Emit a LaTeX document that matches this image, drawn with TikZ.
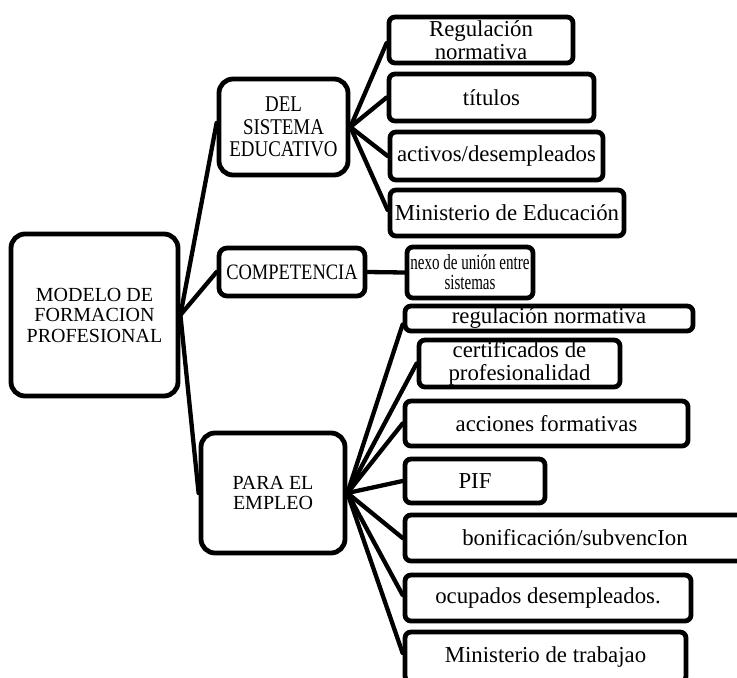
\documentclass[tikz,border=0pt]{standalone}
\usepackage{fontspec}
\setmainfont{Liberation Serif}
\newfontfamily\narrowserif{Liberation Serif}[FakeStretch=0.84]
\newfontfamily\narrowerserif{Liberation Serif}[FakeStretch=0.70]
\usetikzlibrary{backgrounds}

\tikzset{
  box/.style={draw=black, fill=white, line width=4.8pt, inner sep=0pt,
    align=center, anchor=center},
  bigbox/.style={box, rounded corners=14pt},
  smallbox/.style={box, rounded corners=6pt},
  capsfont/.style={font=\fontsize{20}{20.5}\selectfont},
  leaffont/.style={font=\fontsize{22.8}{22.5}\selectfont},
  link/.style={draw=black, line width=4.3pt, line cap=round},
}

\begin{document}
\begin{tikzpicture}[x=1pt, y=-1pt]
  \useasboundingbox (0,0) rectangle (737,678);
  \clip (0,0) rectangle (737,678);

  % root
  \node[bigbox, capsfont, minimum width=167pt, minimum height=162pt] (root) at (94.5,315)
    {MODELO DE\\FORMACION\\PROFESIONAL};

  % second level
  \node[bigbox, font=\narrowserif\fontsize{22.5}{22.5}\selectfont, minimum width=129pt, minimum height=96pt] (edu) at (283.5,127)
    {DEL\\SISTEMA\\EDUCATIVO};
  \node[smallbox, rounded corners=8pt, font=\narrowserif\fontsize{22}{22}\selectfont, minimum width=146pt, minimum height=48pt] (comp) at (292,272)
    {COMPETENCIA};
  \node[bigbox, capsfont, minimum width=144pt, minimum height=120pt] (emp) at (273,493)
    {PARA EL\\EMPLEO};

  % leaves of the education branch
  \node[smallbox, leaffont, minimum width=184pt, minimum height=46pt] (e1) at (481,40)
    {Regulación\\normativa};
  \node[smallbox, leaffont, minimum width=205pt, minimum height=47pt] (e2) at (491.5,97.5)
    {títulos};
  \node[smallbox, leaffont, minimum width=213pt, minimum height=48pt] (e3) at (496.5,156)
    {activos/desempleados};
  \node[smallbox, leaffont, minimum width=234pt, minimum height=46pt] (e4) at (507,213)
    {Ministerio de Educación};

  % competence link
  \node[smallbox, font=\narrowerserif\fontsize{21.5}{20}\selectfont, minimum width=126pt, minimum height=51pt] (c1) at (470,272.5)
    {nexo de unión entre\\sistemas};

  % leaves of the employment branch
  \node[smallbox, leaffont, minimum width=288pt, minimum height=25pt] (p1) at (549,318.5)
    {\raisebox{-1.5pt}{regulación normativa}};
  \node[smallbox, leaffont, minimum width=201pt, minimum height=47pt] (p2) at (519.5,363.5)
    {certificados de\\profesionalidad};
  \node[smallbox, leaffont, minimum width=283pt, minimum height=45pt] (p3) at (546.5,423.5)
    {acciones formativas};
  \node[smallbox, leaffont, minimum width=140pt, minimum height=44pt] (p4) at (475,481)
    {PIF};
  \node[smallbox, leaffont, minimum width=340pt, minimum height=46pt] (p5) at (575,538)
    {bonificación/subvencIon};
  \node[smallbox, leaffont, minimum width=286pt, minimum height=46pt] (p6) at (548,598)
    {ocupados desempleados.};
  \node[smallbox, leaffont, minimum width=281pt, minimum height=50pt] (p7) at (545.5,657)
    {Ministerio de trabajao};

  % connectors
  \begin{scope}[on background layer]
    \draw[link] (root.east) -- ([yshift=4pt]edu.west);
    \draw[link] (root.east) -- (comp.west);
    \draw[link] (root.east) -- (emp.west);

    \draw[link] (edu.east) -- ([yshift=-3pt]e1.west);
    \draw[link] (edu.east) -- (e2.west);
    \draw[link] (edu.east) -- (e3.west);
    \draw[link] (edu.east) -- ([yshift=3pt]e4.west);

    \draw[link] (comp.east) -- (c1.west);

    \draw[link] (emp.east) -- ([yshift=-6pt]p1.west);
    \draw[link] (emp.east) -- (p2.west);
    \draw[link] (emp.east) -- (p3.west);
    \draw[link] (emp.east) -- (p4.west);
    \draw[link] (emp.east) -- (p5.west);
    \draw[link] (emp.east) -- ([yshift=3pt]p6.west);
    \draw[link] (emp.east) -- ([yshift=4pt]p7.west);
  \end{scope}
\end{tikzpicture}
\end{document}
